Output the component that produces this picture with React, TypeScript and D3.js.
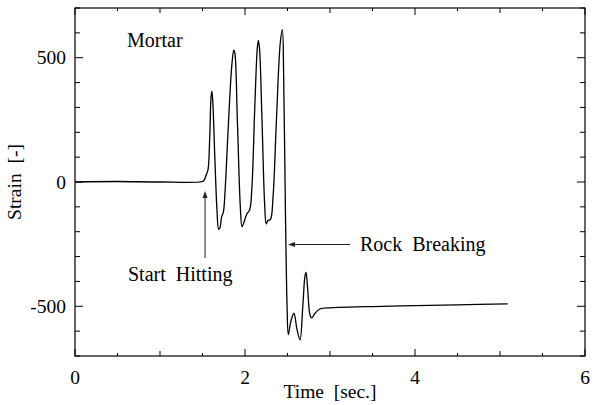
import React from "react";
import * as d3 from "d3";

const timeValues = [0, 0.5, 1.0, 1.5, 1.52, 1.545, 1.565, 1.585, 1.6, 1.61, 1.62, 1.645, 1.67, 1.69, 1.705, 1.725, 1.745, 1.765, 1.8, 1.845, 1.868, 1.88, 1.91, 1.945, 1.965, 1.985, 2.02, 2.055, 2.08, 2.115, 2.145, 2.157, 2.17, 2.2, 2.23, 2.25, 2.27, 2.3, 2.33, 2.37, 2.415, 2.44, 2.455, 2.475, 2.495, 2.51, 2.54, 2.576, 2.61, 2.647, 2.68, 2.705, 2.718, 2.735, 2.765, 2.785, 2.82, 2.88, 3.0, 3.12, 3.5, 4.0, 4.5, 5.09];
const strainValues = [0, 2, 0, 2, 8, 30, 50, 180, 340, 365, 330, 100, -110, -190, -185, -140, -122, -40, 200, 470, 530, 520, 250, -100, -180, -165, -130, -112, -30, 300, 540, 570, 540, 250, -80, -168, -155, -150, -60, 250, 560, 613, 420, -100, -500, -614, -560, -528, -590, -635, -500, -380, -364, -420, -535, -547, -530, -511, -506, -504, -501, -497, -494, -490];

const xMajorTicks = [0, 2, 4, 6];
const yMajorTicks = [-500, 0, 500];
const xLabel = "Time  [sec.]";
const yLabel = "Strain  [-]";
const annotations = { title: "Mortar", start: "Start  Hitting", rock: "Rock  Breaking" };

const W = 599, H = 405;
const L = 75, R = 585, T = 8, B = 356;
const FONT = "'Liberation Serif', 'Times New Roman', serif";
const FS = 19.5;
const FA = 20;
const pre = { whiteSpace: "pre" as const };

export default function App() {
  const x = d3.scaleLinear().domain([0, 6]).range([L, R]);
  const y = d3.scaleLinear().domain([-700, 700]).range([B, T]);
  const pts = timeValues.map((t, i) => [t, strainValues[i]] as [number, number]);
  const line = d3.line<[number, number]>().x(d => x(d[0])).y(d => y(d[1])).curve(d3.curveCatmullRom.alpha(0.5));

  const xTicks = d3.range(0, 6.01, 0.5);
  const yTicks = d3.range(-700, 701, 100);

  const xTickLen = (t: number) => (Math.abs(t % 2) < 1e-6 ? 7 : Math.abs(t % 1) < 1e-6 ? 5 : 3);
  const yTickLen = (v: number) => (v % 500 === 0 ? 8 : 5);

  return (
    <svg width={W} height={H} style={{ position: "absolute", left: 0, top: 0 }}>
      <rect x={0} y={0} width={W} height={H} fill="white" />
      <rect x={L} y={T} width={R - L} height={B - T} fill="none" stroke="black" strokeWidth={1.2} />
      {xTicks.map(t => (
        <g key={"xt" + t}>
          <line x1={x(t)} x2={x(t)} y1={B} y2={B - xTickLen(t)} stroke="black" />
          <line x1={x(t)} x2={x(t)} y1={T} y2={T + xTickLen(t)} stroke="black" />
        </g>
      ))}
      {yTicks.map(v => (
        <g key={"yt" + v}>
          <line x1={L} x2={L + yTickLen(v)} y1={y(v)} y2={y(v)} stroke="black" />
          <line x1={R} x2={R - yTickLen(v)} y1={y(v)} y2={y(v)} stroke="black" />
        </g>
      ))}
      {xMajorTicks.map(t => (
        <text key={"xl" + t} x={x(t)} y={384} textAnchor="middle" fontFamily={FONT} fontSize={FS}>{t}</text>
      ))}
      {yMajorTicks.map(v => (
        <text key={"yl" + v} x={L - 9} y={y(v) + 6.5} textAnchor="end" fontFamily={FONT} fontSize={FS}>{v}</text>
      ))}
      <text x={(L + R) / 2} y={398} textAnchor="middle" fontFamily={FONT} fontSize={FS} style={pre}>{xLabel}</text>
      <text transform={`translate(21, ${(T + B) / 2}) rotate(-90)`} textAnchor="middle" fontFamily={FONT} fontSize={FS} style={pre}>{yLabel}</text>

      <path d={line(pts) || ""} fill="none" stroke="black" strokeWidth={1.3} />

      <text x={127} y={47} fontFamily={FONT} fontSize={FA}>{annotations.title}</text>
      <text x={128} y={281} fontFamily={FONT} fontSize={FA} style={pre}>{annotations.start}</text>
      <text x={360} y={251} fontFamily={FONT} fontSize={FA} style={pre}>{annotations.rock}</text>

      <line x1={x(1.53)} x2={x(1.53)} y1={258} y2={196} stroke="#222" strokeWidth={1} />
      <path d={`M${x(1.53)},${191} l-2.5,7 l5,0 z`} fill="#222" />
      <line x1={350} x2={293} y1={244.5} y2={244.5} stroke="#222" strokeWidth={1} />
      <path d={`M288,244.5 l7,-2.5 l0,5 z`} fill="#222" />
    </svg>
  );
}
